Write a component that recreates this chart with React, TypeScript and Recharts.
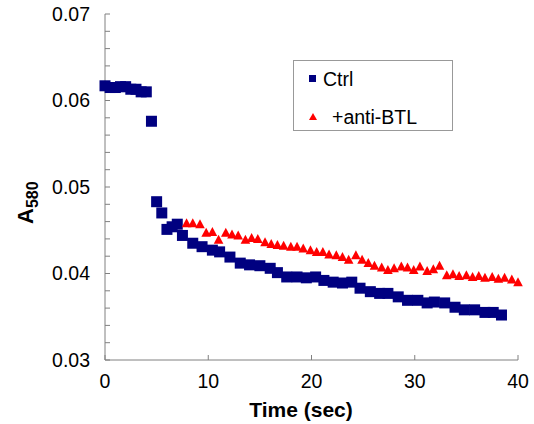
import { Legend, Scatter, ScatterChart, XAxis, YAxis } from 'recharts'

// Ctrl run, time (sec) and A580
const ctrlTime = [
  0, 0.5, 1.0, 1.5, 2.0, 2.5, 3.0, 3.5, 4.0, 4.5, 5.0, 5.5, 6.0, 6.5, 7.0, 7.5,
  8.5, 9.4, 10.4, 11.1, 12.1, 13.1, 14.0, 15.0, 16.0, 16.7, 17.6, 18.6, 19.5,
  20.4, 21.2, 22.1, 23.0, 23.9, 24.7, 25.7, 26.6, 27.4, 28.4, 29.3, 30.3, 31.2,
  31.9, 32.9, 33.9, 34.8, 35.8, 36.8, 37.6, 38.4,
]
const ctrlA = [
  0.0617, 0.0615, 0.0615, 0.0616, 0.0616, 0.0613, 0.0613, 0.061, 0.061, 0.0576,
  0.0483, 0.047, 0.0451, 0.0454, 0.0457, 0.0444, 0.0435, 0.0431, 0.0427, 0.0425,
  0.0419, 0.0412, 0.041, 0.0409, 0.0406, 0.0401, 0.0396, 0.0396, 0.0395, 0.0396,
  0.0392, 0.039, 0.0389, 0.039, 0.0383, 0.0379, 0.0377, 0.0377, 0.0373, 0.0369,
  0.0369, 0.0366, 0.0367, 0.0366, 0.0361, 0.0358, 0.0358, 0.0355, 0.0355, 0.0352,
]

// +anti-BTL run
const btlTime = [
  7.9, 8.5, 9.2, 9.8, 10.4, 11.0, 11.7, 12.3, 12.9, 13.6, 14.2, 14.8, 15.5, 16.1,
  16.7, 17.3, 18.0, 18.6, 19.2, 19.9, 20.5, 21.1, 21.7, 22.4, 23.0, 23.6, 24.3,
  24.9, 25.5, 26.1, 26.8, 27.4, 28.0, 28.7, 29.3, 29.9, 30.5, 31.2, 31.8, 32.4,
  33.1, 33.7, 34.3, 35.0, 35.6, 36.2, 36.8, 37.5, 38.1, 38.7, 39.4, 40.0,
]
const btlA = [
  0.0458, 0.0458, 0.0457, 0.0447, 0.0448, 0.0439, 0.0447, 0.0445, 0.0444, 0.0439,
  0.0441, 0.044, 0.0436, 0.0434, 0.0433, 0.0432, 0.0431, 0.0431, 0.0429, 0.0427,
  0.0425, 0.0425, 0.0422, 0.0421, 0.0419, 0.0416, 0.0421, 0.0416, 0.0412, 0.0409,
  0.0407, 0.0404, 0.0406, 0.0408, 0.0407, 0.0404, 0.0408, 0.0403, 0.0405, 0.0409,
  0.0398, 0.0399, 0.0397, 0.0398, 0.0396, 0.0397, 0.0395, 0.0396, 0.0394, 0.0395,
  0.0393, 0.039,
]

const xTicks = [0, 10, 20, 30, 40]
const yTicks = [
  0.03, 0.032, 0.034, 0.036, 0.038, 0.04, 0.042, 0.044, 0.046, 0.048, 0.05,
  0.052, 0.054, 0.056, 0.058, 0.06, 0.062, 0.064, 0.066, 0.068, 0.07,
]
const yLabeled = ['0.03', '0.04', '0.05', '0.06', '0.07']

const ctrlData = ctrlTime.map((t, i) => ({ t, a: ctrlA[i] }))
const btlData = btlTime.map((t, i) => ({ t, a: btlA[i] }))

const NAVY = '#000080'
const RED = '#ff0000'
const AXIS = '#808080'

function Square(props: any) {
  const { cx, cy } = props
  return <rect x={cx - 5.5} y={cy - 5.5} width={11} height={11} fill={NAVY} />
}

function Triangle(props: any) {
  const { cx, cy } = props
  return (
    <polygon
      points={`${cx},${cy - 5} ${cx + 4.8},${cy + 4} ${cx - 4.8},${cy + 4}`}
      fill={RED}
    />
  )
}

function fmtY(v: number) {
  const s = v.toFixed(2)
  return Math.abs(v - Number(s)) < 1e-9 && yLabeled.includes(s) ? s : ''
}

function LegendBox() {
  return (
    <div
      style={{
        border: '1px solid #999',
        background: '#fff',
        width: 160,
        height: 71,
        boxSizing: 'border-box',
        position: 'relative',
        fontSize: 19.5,
        color: '#000',
      }}
    >
      <svg width={160} height={71} style={{ position: 'absolute', left: 0, top: 0 }}>
        <rect x={15} y={14} width={7} height={7} fill={NAVY} />
        <polygon points="19,52 23,59 15,59" fill={RED} />
        <text x={29} y={25} fontSize={19.5}>Ctrl</text>
        <text x={38} y={63} fontSize={19.5}>+anti-BTL</text>
      </svg>
    </div>
  )
}

export default function App() {
  return (
    <div
      style={{
        position: 'absolute',
        left: 0,
        top: 0,
        width: 534,
        height: 424,
        background: '#fff',
        fontFamily: '"Liberation Sans", Arial, sans-serif',
      }}
    >
      <ScatterChart
        width={534}
        height={424}
        margin={{ top: 14, right: 16, bottom: 34, left: 45 }}
      >
        <XAxis
          type="number"
          dataKey="t"
          domain={[0, 40]}
          ticks={xTicks}
          interval={0}
          height={30}
          stroke={AXIS}
          tickSize={-5}
          tickMargin={19}
          tick={{ fill: '#000', fontSize: 19.5 }}
          label={{
            content: () => (
              <text x={301} y={417} textAnchor="middle" fontSize={21} fontWeight="bold" fill="#000">
                Time (sec)
              </text>
            ),
          }}
        />
        <YAxis
          type="number"
          dataKey="a"
          domain={[0.03, 0.07]}
          ticks={yTicks}
          interval={0}
          width={60}
          stroke={AXIS}
          tickSize={-5}
          tickMargin={20}
          tickFormatter={fmtY}
          tick={{ fill: '#000', fontSize: 19.5 }}
          allowDataOverflow
          label={{
            content: () => (
              <text transform="translate(33, 224) rotate(-90)" fontWeight="bold" fill="#000">
                <tspan fontSize={22}>A</tspan>
                <tspan fontSize={16} dy={5}>580</tspan>
              </text>
            ),
          }}
        />
        <Legend
          layout="vertical"
          align="center"
          verticalAlign="middle"
          wrapperStyle={{ left: 293, top: 60, width: 162 }}
          content={() => <LegendBox />}
        />
        <Scatter name="Ctrl" data={ctrlData} shape={Square} isAnimationActive={false} />
        <Scatter name="+anti-BTL" data={btlData} shape={Triangle} isAnimationActive={false} />
      </ScatterChart>
    </div>
  )
}
